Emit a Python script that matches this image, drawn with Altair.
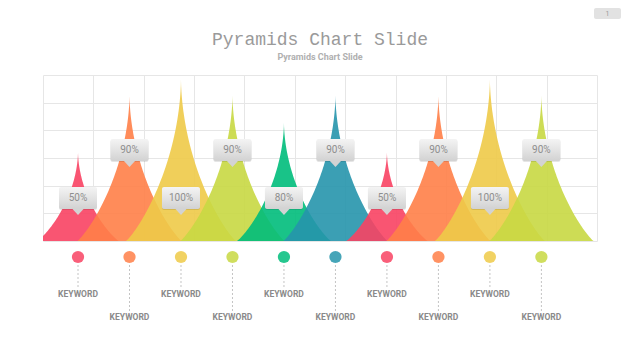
import altair as alt
import numpy as np
import pandas as pd

# ---------------- data ----------------
title_text = "Pyramids Chart Slide"
subtitle_text = "Pyramids Chart Slide"
page_number = "1"
keywords = ["KEYWORD"] * 10
percent_labels = ["50%", "90%", "100%", "90%", "80%", "90%", "50%", "90%", "100%", "90%"]
peak_heights = [55, 90, 100, 90, 73, 90, 55, 90, 100, 90]   # visual height, % of grid height
pyramid_colors = ["#F84363", "#FF7F48", "#EECA48", "#C8D842", "#00BD7B", "#2695AC",
                  "#F84363", "#FF7F48", "#EECA48", "#C8D842"]

# ---------------- layout constants ----------------
W, H = 554, 166
X_DOMAIN = [-0.68, 10.08]
Y_DOMAIN = [0, 102]
PPU = W / (X_DOMAIN[1] - X_DOMAIN[0])          # pixels per x unit
grid_x = [X_DOMAIN[0] + k * (X_DOMAIN[1] - X_DOMAIN[0]) / 11 for k in range(12)]
grid_y = [k * Y_DOMAIN[1] / 6 for k in range(7)]

xscale = alt.Scale(domain=X_DOMAIN, nice=False, zero=False)
yscale = alt.Scale(domain=Y_DOMAIN, nice=False, zero=False)
xaxis = alt.Axis(values=grid_x, grid=True, labels=False, ticks=False, domain=False,
                 title=None, gridColor="#e6e6e6", gridWidth=1)
yaxis = alt.Axis(values=grid_y, grid=True, labels=False, ticks=False, domain=False,
                 title=None, gridColor="#e6e6e6", gridWidth=1)

# ---------------- pyramid outlines ----------------
rows = []
s = np.linspace(-1, 1, 201)
for i, (h, c) in enumerate(zip(peak_heights, pyramid_colors)):
    w = (55 / PPU) * np.sqrt(h / 100)
    t = s ** 2
    dx = np.sign(s) * t * w
    y = h * (1 - t ** 0.55) ** 1.15
    for a, b in zip(dx, y):
        rows.append({"pid": i, "x": i + a, "y": b, "col": c})
pyr = pd.DataFrame(rows)

pts = pd.DataFrame({
    "i": list(range(10)),
    "kw": keywords,
    "lab": percent_labels,
    "col": pyramid_colors,
})
pts["row"] = pts["i"] % 2
half_box = 19 / PPU
pts["bx1"] = pts["i"] - half_box
pts["bx2"] = pts["i"] + half_box

X = lambda f="i": alt.X(f"{f}:Q", scale=xscale, axis=xaxis)

pyramids = alt.Chart(pyr).mark_area(opacity=0.9, clip=True, interpolate="linear").encode(
    x=alt.X("x:Q", scale=xscale, axis=xaxis),
    y=alt.Y("y:Q", scale=yscale, axis=yaxis, stack=None),
    detail="pid:N",
    color=alt.Color("col:N", scale=None),
)

grad = alt.LinearGradient(
    gradient="linear",
    stops=[alt.GradientStop(color="#f4f4f4", offset=0),
           alt.GradientStop(color="#d2d2d2", offset=1)],
    x1=0, x2=0, y1=0, y2=1,
)

def callouts(row_id, top):
    base = alt.Chart(pts).transform_filter(f"datum.row == {row_id}")
    shadow = base.mark_rect(color="#000000", opacity=0.10, cornerRadius=2).encode(
        x=X("bx1"), x2="bx2", y=alt.value(top + 1), y2=alt.value(top + 23))
    box = base.mark_rect(color=grad, cornerRadius=2).encode(
        x=X("bx1"), x2="bx2", y=alt.value(top), y2=alt.value(top + 22))
    ptr = base.mark_point(shape="M-1,-0.6L1,-0.6L0,0.5Z", filled=True, size=144,
                          color="#d3d3d3", opacity=1).encode(
        x=X(), y=alt.value(top + 25))
    txt = base.mark_text(font="Roboto", fontSize=10, color="#8e8e8e").encode(
        x=X(), y=alt.value(top + 11), text="lab:N")
    return [shadow, box, ptr, txt]

circles = alt.Chart(pts).mark_circle(size=150, opacity=0.85).encode(
    x=X(), y=alt.value(182), color=alt.Color("col:N", scale=None))

def keyword_layer(row_id, end, ty):
    base = alt.Chart(pts).transform_filter(f"datum.row == {row_id}")
    line = base.mark_rule(strokeDash=[2, 2], color="#c4c4c4", strokeWidth=1).encode(
        x=X(), y=alt.value(190), y2=alt.value(end))
    txt = base.mark_text(font="Roboto", fontWeight="bold", fontSize=8.5,
                         color="#8a8a8a").encode(x=X(), y=alt.value(ty), text="kw:N")
    return [line, txt]

tdf = pd.DataFrame({"t": [title_text], "s": [subtitle_text], "p": [page_number]})
title = alt.Chart(tdf).mark_text(font="Liberation Mono", fontSize=18, color="#9a9a9a").encode(
    x=alt.value(W / 2), y=alt.value(-35), text="t:N")
subtitle = alt.Chart(tdf).mark_text(font="Roboto", fontWeight="bold", fontSize=9,
                                    color="#b0b0b0").encode(
    x=alt.value(W / 2), y=alt.value(-18), text="s:N")
pagebox = alt.Chart(tdf).mark_rect(color="#e2e2e2", cornerRadius=2).encode(
    x=alt.value(551), x2=alt.value(578), y=alt.value(-67), y2=alt.value(-56))
pagetxt = alt.Chart(tdf).mark_text(font="Roboto", fontSize=7, color="#9a9a9a").encode(
    x=alt.value(564.5), y=alt.value(-61.5), text="p:N")

layers = [pyramids] + callouts(1, 64) + callouts(0, 112) + [circles] \
    + keyword_layer(0, 213, 219) + keyword_layer(1, 236, 242) \
    + [title, subtitle, pagebox, pagetxt]

chart = alt.layer(*layers).properties(
    width=W, height=H,
    autosize=alt.AutoSizeParams(type="none"),
    padding={"left": 35, "top": 67, "right": 35, "bottom": 111},
    background="#ffffff",
).configure_view(stroke=None)

chart.save("out.html", embed_options={"renderer": "svg", "actions": False})
